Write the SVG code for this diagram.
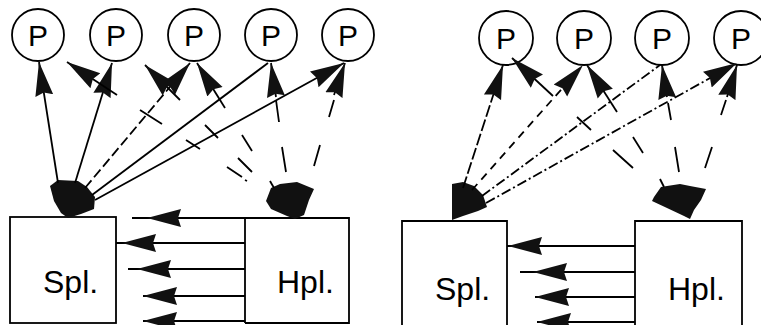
<svg xmlns="http://www.w3.org/2000/svg" width="761" height="325" viewBox="0 0 761 325">
<style>
.c{fill:#fff;stroke:#000;stroke-width:1.8}
.p{font-family:"Liberation Sans",Arial,sans-serif;font-size:30px;text-anchor:middle;fill:#000}
.lbl{font-family:"Liberation Sans",Arial,sans-serif;font-size:32px;fill:#000}
.box{fill:none;stroke:#000;stroke-width:1.8}
.ln{fill:none;stroke:#000;stroke-width:1.8}
.hd{fill:none;stroke:#000;stroke-width:1.8;marker-end:url(#ah)}
.fr{fill:none;stroke:#000;stroke-width:1.8}
.blob{fill:#111}
.d1{stroke-dasharray:10 4}
.d2{stroke-dasharray:12 3}
.d3{stroke-dasharray:8 6}
.dd{stroke-dasharray:10 3 2 3}
</style>
<defs>
<marker id="ah" markerUnits="userSpaceOnUse" markerWidth="35" markerHeight="20" viewBox="0 0 35 20" refX="34" refY="10" orient="auto">
<path d="M0,1 L34,10 L0,19 L3,10 Z" fill="#111"/>
</marker>
</defs>
<rect width="761" height="325" fill="#fff"/>

<!-- LEFT PANEL -->
<g id="lp1"><circle class="c" cx="38" cy="35" r="26"/><text class="p" x="38" y="46">P</text></g>
<g id="lp2"><circle class="c" cx="116" cy="35" r="26"/><text class="p" x="116" y="46">P</text></g>
<g id="lp3"><circle class="c" cx="194" cy="35" r="26"/><text class="p" x="194" y="46">P</text></g>
<g id="lp4"><circle class="c" cx="271" cy="35" r="26"/><text class="p" x="271" y="46">P</text></g>
<g id="lp5"><circle class="c" cx="348" cy="35" r="26"/><text class="p" x="348" y="46">P</text></g>

<g id="lspl"><rect class="box" x="10" y="217" width="106" height="106"/><text class="lbl" x="43" y="293">Spl.</text>
<polygon class="blob" points="50,186 58,180 78,181 87,187 95,197 94,209 81,214 68,218 61,213 54,201"/></g>
<g id="lhpl"><path class="box" d="M245,323 V218 H349 V323 H245"/><text class="lbl" x="277" y="293">Hpl.</text>
<polygon class="blob" points="266,201 271,188 280,184 297,182 314,189 309,200 304,215 295,219 287,216 271,209"/>
<path class="ln" d="M270,181 L274,188"/></g>

<!-- RIGHT PANEL -->
<g id="rp1"><circle class="c" cx="506" cy="38" r="27"/><text class="p" x="506" y="49">P</text></g>
<g id="rp2"><circle class="c" cx="584" cy="38" r="27"/><text class="p" x="584" y="49">P</text></g>
<g id="rp3"><circle class="c" cx="662" cy="38" r="27"/><text class="p" x="662" y="49">P</text></g>
<g id="rp4"><circle class="c" cx="741" cy="38" r="27"/><text class="p" x="741" y="49">P</text></g>

<g id="rspl"><path class="box" d="M402,330 V221 H507 V330"/><text class="lbl" x="435" y="300">Spl.</text>
<polygon class="blob" points="452,184 463,182 474,186 483,195 487,207 478,211 463,216 452,220"/></g>
<g id="rhpl"><path class="box" d="M635,330 V221 H742 V330"/><text class="lbl" x="668" y="300">Hpl.</text>
<polygon class="blob" points="654,197 661,187 667,186 680,184 690,186 706,189 701,200 694,210 690,219 684,216 667,208 652,201"/>
<path class="ln" d="M660,179 L664,187"/></g>

<g id="connectors">
<!-- left: Spl to P -->
<line class="hd" x1="58" y1="183" x2="39" y2="62"/>
<line class="hd" x1="75" y1="183" x2="112" y2="63"/>
<line class="hd d1" x1="85" y1="188" x2="190" y2="63"/>
<line class="ln" x1="92" y1="195" x2="268" y2="63"/>
<line class="hd" x1="95" y1="200" x2="344" y2="63"/>
<!-- left: Hpl to P (broken dashed) -->
<line class="hd" x1="117" y1="95" x2="67" y2="62"/>
<path class="fr" d="M140,110 L162,124 M186,140 L200,149 M227,167 L242,177 M245,180 L247,181"/>
<line class="hd" x1="180" y1="100" x2="145" y2="65"/>
<path class="fr" d="M205,125 L218,138 M238,158 L252,172"/>
<line class="hd" x1="225" y1="108" x2="197" y2="63"/>
<path class="fr" d="M242,135 L252,151"/>
<line class="hd" x1="276" y1="97" x2="271" y2="63"/>
<path class="fr" d="M276,100 L279,122 M282,147 L286,172"/>
<line class="hd" x1="334" y1="95" x2="345" y2="63"/>
<path class="fr" d="M334,100 L329,117 M320,145 L314,166"/>
<!-- left: Hpl to Spl -->
<line class="ln" x1="245" y1="218" x2="132" y2="218"/><line class="hd" x1="178" y1="218" x2="147" y2="218"/>
<line class="ln" x1="245" y1="243" x2="116" y2="243"/><line class="hd" x1="152" y1="243" x2="122" y2="243"/>
<line class="ln" x1="245" y1="269" x2="128" y2="269"/><line class="hd" x1="175" y1="269" x2="137" y2="269"/>
<line class="ln" x1="245" y1="296" x2="146" y2="296"/><line class="hd" x1="177" y1="296" x2="143" y2="296"/>
<line class="ln" x1="245" y1="321" x2="146" y2="321"/><line class="hd" x1="177" y1="321" x2="143" y2="321"/>

<!-- right: Spl to P -->
<line class="hd d2" x1="463" y1="188" x2="503" y2="65"/>
<line class="hd d3" x1="472" y1="190" x2="583" y2="65"/>
<line class="ln dd" x1="482" y1="196" x2="660" y2="65"/>
<line class="hd dd" x1="486" y1="203" x2="737" y2="63"/>
<!-- right: Hpl to P -->
<line class="hd" x1="553" y1="96" x2="512" y2="58"/>
<path class="fr" d="M577,117 L591,130 M613,150 L633,168"/>
<line class="hd" x1="617" y1="112" x2="587" y2="65"/>
<path class="fr" d="M633,137 L643,153"/>
<line class="hd" x1="667" y1="97" x2="662" y2="65"/>
<path class="fr" d="M668,103 L671,120 M675,147 L679,172"/>
<line class="hd" x1="727" y1="97" x2="737" y2="65"/>
<path class="fr" d="M726,100 L721,115 M712,147 L705,168"/>
<!-- right: Hpl to Spl -->
<line class="ln" x1="635" y1="246" x2="507" y2="246"/><line class="hd" x1="542" y1="246" x2="508" y2="246"/>
<line class="ln" x1="635" y1="272" x2="520" y2="272"/><line class="hd" x1="567" y1="272" x2="533" y2="272"/>
<line class="ln" x1="635" y1="297" x2="535" y2="297"/><line class="hd" x1="568" y1="297" x2="535" y2="297"/>
<line class="ln" x1="635" y1="322" x2="537" y2="322"/><line class="hd" x1="568" y1="322" x2="537" y2="322"/>
</g>
</svg>
